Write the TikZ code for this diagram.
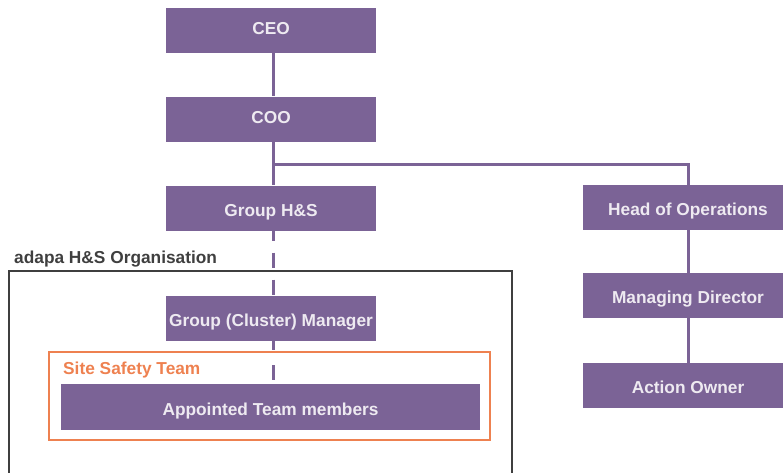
\documentclass[tikz,border=0pt]{standalone}
\usepackage{fontspec}
\setmainfont{Liberation Sans}
\definecolor{boxpurple}{HTML}{7B6396}
\definecolor{boxtext}{HTML}{EEEAF1}
\definecolor{safety}{HTML}{EE8150}
\definecolor{frame}{HTML}{3F3F3F}
\begin{document}
\begin{tikzpicture}[x=1pt,y=-1pt,
  labelfont/.style={font=\fontsize{17.3}{20}\selectfont\bfseries},
  rolebox/.style={labelfont, fill=boxpurple, text=boxtext,
    minimum width=210pt, minimum height=45pt, inner sep=0pt, anchor=center,
    text height=16.4pt, text depth=0pt},
  toprole/.style={rolebox, text height=8.4pt},
  link/.style={draw=boxpurple, line width=3pt},
  dashlink/.style={draw=boxpurple, line width=3pt, dash pattern=on 15pt off 12pt, dash phase=5pt}]
  \useasboundingbox (0,0) rectangle (783,472);

  % outer organisation frame and site safety frame
  \draw[frame, line width=2.5pt] (9,271) rectangle (512,480);
  \node[anchor=base west, text=frame, labelfont, inner sep=0pt] (orglabel) at (14,263.5) {adapa H\&S Organisation};
  \draw[safety, line width=2.5pt] (49,352) rectangle (490,440);
  \node[anchor=base west, text=safety, labelfont, inner sep=0pt] (sitelabel) at (63,374) {Site Safety Team};

  % left column
  \node[toprole] (ceo) at (271,30) {CEO};
  \node[toprole] (coo) at (271,119) {COO};
  \node[rolebox] (ghs) at (271,208) {Group H\&S};
  \node[rolebox] (gcm) at (271,318.5) {Group (Cluster) Manager};
  \node[rolebox, minimum width=419pt, minimum height=46pt] (atm) at (270.5,407) {Appointed Team members};

  % right column
  \node[rolebox] (hop) at (688,207.5) {Head of Operations};
  \node[rolebox] (md) at (688,295.5) {Managing Director};
  \node[rolebox] (ao) at (688,385.5) {Action Owner};

  \coordinate (split) at (273,164);
  \coordinate (dashend) at (273,380);

  % connectors
  \draw[link] ([xshift=2pt]ceo.south) -- ([xshift=2pt]coo.north);
  \draw[link] ([xshift=2pt]coo.south) -- ([xshift=2pt]ghs.north);
  \draw[link] (split) -| (hop.north);
  \draw[link] (hop.south) -- (md.north);
  \draw[link] (md.south) -- (ao.north);
  \draw[dashlink] ([xshift=2pt]ghs.south) -- ([xshift=2pt]gcm.north);
  \draw[link, dash pattern=on 9pt off 15pt on 15pt off 30pt] ([xshift=2pt]gcm.south) -- (dashend);
\end{tikzpicture}
\end{document}
